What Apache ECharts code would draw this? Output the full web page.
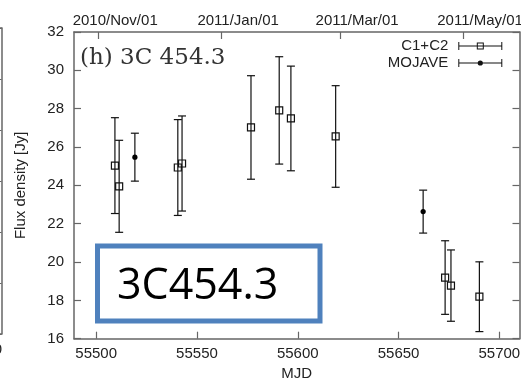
<!DOCTYPE html>
<html>
<head>
<meta charset="utf-8">
<script src="https://cdn.jsdelivr.net/npm/echarts@6.0.0/dist/echarts.min.js"></script>
<style>
  html, body { margin: 0; padding: 0; background: #fff; }
  #chart { width: 521px; height: 386px; }
</style>
</head>
<body>
<div id="chart"></div>
<script>
// C1+C2 (open squares)
const mjdC12 = [55509.3, 55511.4, 55540.5, 55542.6, 55576.8, 55590.8, 55596.6, 55618.8, 55673.1, 55676.0, 55690.1]
const fluxC12 = [25.03, 23.95, 24.93, 25.14, 27.02, 27.91, 27.49, 26.55, 19.19, 18.77, 18.19]
const errC12 = [2.5, 2.4, 2.5, 2.48, 2.7, 2.8, 2.73, 2.65, 1.92, 1.86, 1.82]
// MOJAVE (filled dots)
const mjdMojave = [55519.2, 55662.2]
const fluxMojave = [25.47, 22.63]
const errMojave = [1.25, 1.12]

const mjdTicks = [55500, 55550, 55600, 55650, 55700]
const dateTicks = [55501, 55562, 55621, 55682]
const dateLabels = ['2010/Nov/01', '2011/Jan/01', '2011/Mar/01', '2011/May/01']

const sans = "'Liberation Sans', Arial, sans-serif"
const axisGray = '#666'
const textCol = '#222'

// legend icons: horizontal error bar with a marker in the middle
const iconSquare = 'path://M0 3.5h44v1H0z M0 0h1v8H0z M43 0h1v8h-1z M18.5 0.5h7v1h-7z M18.5 6.5h7v1h-7z M18.5 0.5h1v7h-1z M24.5 0.5h1v7h-1z'
const iconDot = 'path://M0 3.5h44v1H0z M0 0h1v8H0z M43 0h1v8h-1z M24.6 4a2.6 2.6 0 1 1 -5.2 0a2.6 2.6 0 1 1 5.2 0z'

function errorBars(marker) {
  return function (params, api) {
    let x = api.value(0), y = api.value(1), e = api.value(2)
    let pm = api.coord([x, y])
    let ph = api.coord([x, y + e])
    let pl = api.coord([x, y - e])
    let cap = 4
    let st = { stroke: '#111', lineWidth: 1.2, fill: 'none' }
    let kids = [
      { type: 'line', shape: { x1: ph[0], y1: ph[1], x2: pl[0], y2: pl[1] }, style: st },
      { type: 'line', shape: { x1: ph[0] - cap, y1: ph[1], x2: ph[0] + cap, y2: ph[1] }, style: st },
      { type: 'line', shape: { x1: pl[0] - cap, y1: pl[1], x2: pl[0] + cap, y2: pl[1] }, style: st }
    ]
    if (marker === 'square') {
      kids.push({ type: 'rect', shape: { x: pm[0] - 3.5, y: pm[1] - 3.5, width: 7, height: 7 },
        style: { stroke: '#111', lineWidth: 1.2, fill: 'none' } })
    } else {
      kids.push({ type: 'circle', shape: { cx: pm[0], cy: pm[1], r: 2.6 }, style: { fill: '#000' } })
    }
    return { type: 'group', children: kids }
  }
}

function frameAxis(extra) {
  return Object.assign({
    type: 'value',
    axisLine: { show: true, lineStyle: { color: axisGray, width: 1.5 } },
    axisTick: { show: false },
    axisLabel: { show: false },
    splitLine: { show: false }
  }, extra)
}

const plain = function (v) { return String(v) }
const tickStyle = { inside: true, length: 7, lineStyle: { color: axisGray, width: 1.2 } }
const labelStyle = { fontFamily: sans, fontSize: 15, color: textCol }

let myChart = echarts.init(document.getElementById('chart'))
let option = {
  animation: false,
  title: {
    text: '(h) 3C 454.3',
    left: 80,
    top: 47,
    padding: 0,
    textStyle: { fontFamily: "'DejaVu Serif', serif", fontSize: 23, fontWeight: 'normal', color: '#333' }
  },
  legend: {
    orient: 'vertical',
    right: 18.7,
    top: 38.5,
    padding: 0,
    align: 'right',
    itemWidth: 44,
    itemHeight: 8,
    itemGap: 2,
    textStyle: { fontFamily: sans, fontSize: 15, color: textCol, padding: [0, 5, 0, 0] },
    itemStyle: { color: '#111', borderWidth: 0 },
    data: [{ name: 'C1+C2', icon: iconSquare }, { name: 'MOJAVE', icon: iconDot }]
  },
  grid: [
    { left: 74, right: 1.5, top: 32, bottom: 47.3, containLabel: false, outerBoundsMode: 'none' },
    // edge of the neighbouring panel on the left
    { left: -444, width: 445.5, top: 28, height: 306, containLabel: false, outerBoundsMode: 'none' }
  ],
  xAxis: [
    frameAxis({
      gridIndex: 0, position: 'bottom', min: 55489, max: 55710,
      name: 'MJD', nameLocation: 'middle', nameGap: 24,
      nameTextStyle: labelStyle,
      axisTick: Object.assign({ show: true, customValues: mjdTicks }, tickStyle),
      axisLabel: Object.assign({ show: true, margin: 8, customValues: mjdTicks, formatter: plain }, labelStyle)
    }),
    frameAxis({
      gridIndex: 0, position: 'top', min: 55489, max: 55710,
      axisTick: Object.assign({ show: true, customValues: dateTicks }, tickStyle),
      axisLabel: Object.assign({
        show: true, margin: 4, customValues: dateTicks, padding: [0, 0, 0, 34],
        formatter: function (v) {
          let i = dateTicks.indexOf(v)
          return i >= 0 ? dateLabels[i] : ''
        }
      }, labelStyle)
    }),
    frameAxis({
      gridIndex: 1, position: 'bottom', min: 55489, max: 55710,
      axisTick: Object.assign({ show: true, customValues: mjdTicks }, tickStyle),
      axisLabel: Object.assign({ show: true, margin: 8, customValues: mjdTicks, formatter: plain }, labelStyle)
    }),
    frameAxis({ gridIndex: 1, position: 'top', min: 55489, max: 55710 })
  ],
  yAxis: [
    frameAxis({
      gridIndex: 0, position: 'left', min: 16, max: 32, interval: 2,
      name: 'Flux density [Jy]', nameLocation: 'middle', nameGap: 46,
      nameTextStyle: labelStyle,
      axisTick: Object.assign({ show: true }, tickStyle),
      axisLabel: Object.assign({ show: true, margin: 10 }, labelStyle)
    }),
    frameAxis({
      gridIndex: 0, position: 'right', min: 16, max: 32, interval: 2,
      axisTick: Object.assign({ show: true }, tickStyle)
    }),
    frameAxis({
      gridIndex: 1, position: 'right', min: 0, max: 6, interval: 1,
      axisTick: Object.assign({ show: true }, tickStyle)
    })
  ],
  series: [
    {
      name: 'C1+C2',
      type: 'custom',
      xAxisIndex: 0,
      yAxisIndex: 0,
      itemStyle: { color: '#111' },
      renderItem: errorBars('square'),
      encode: { x: 0, y: 1 },
      data: mjdC12.map((m, i) => [m, fluxC12[i], errC12[i]])
    },
    {
      name: 'MOJAVE',
      type: 'custom',
      xAxisIndex: 0,
      yAxisIndex: 0,
      itemStyle: { color: '#111' },
      renderItem: errorBars('dot'),
      encode: { x: 0, y: 1 },
      data: mjdMojave.map((m, i) => [m, fluxMojave[i], errMojave[i]])
    }
  ],
  graphic: [
    {
      type: 'rect',
      shape: { x: 97.5, y: 246, width: 222.5, height: 75 },
      style: { stroke: '#4F81BD', lineWidth: 5, fill: 'none' },
      z: 10
    },
    {
      type: 'text',
      x: 117,
      y: 287,
      style: {
        text: '3C454.3',
        fontFamily: "'Open Sans', sans-serif",
        fontSize: 43,
        fill: '#000',
        verticalAlign: 'middle'
      },
      z: 10
    }
  ]
}
myChart.setOption(option)
window.addEventListener('resize', function () {
  myChart.resize()
})
</script>
</body>
</html>
